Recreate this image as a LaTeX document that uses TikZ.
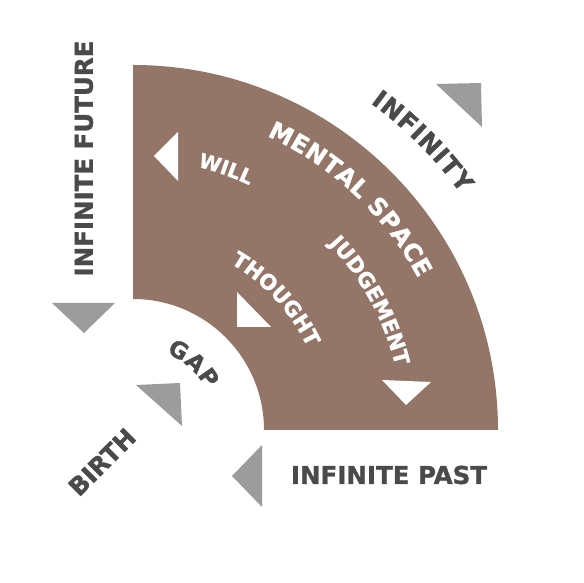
\documentclass[tikz,border=0pt]{standalone}
\usepackage{fontspec}
\usetikzlibrary{decorations.text}
\newfontfamily\labfont{DejaVu Sans}[BoldFeatures={FakeBold=1.2}]
\definecolor{brownfill}{RGB}{147,118,104}
\definecolor{labgray}{RGB}{74,74,74}
\definecolor{trigray}{RGB}{156,156,156}
\newcommand\tfMS{\labfont\bfseries\fontsize{24}{28}\selectfont}
\newcommand\tfW{\labfont\bfseries\fontsize{20}{24}\selectfont}
\newcommand\tfJ{\labfont\bfseries\fontsize{21}{25}\selectfont}
\newcommand\tfG{\labfont\bfseries\fontsize{23}{27}\selectfont}
\newcommand\tfI{\labfont\bfseries\fontsize{25}{29}\selectfont}
\tikzset{
  lab/.style={font=\labfont\bfseries\fontsize{24.5}{28}\selectfont, text=labgray, inner sep=0pt},
}
\begin{document}
\begin{tikzpicture}[x=1pt,y=1pt]
\useasboundingbox (0,0) rectangle (584,583);
\coordinate (C) at (133,153);
% mental space band
\fill[brownfill] (C) ++(131,0) -- ++(234,0) arc[start angle=0,end angle=90,radius=365]
  -- ++(0,-234) arc[start angle=90,end angle=0,radius=131] -- cycle;
% gray triangles
\fill[trigray] (52,280) -- (115,280) -- (84,250) -- cycle;
\fill[trigray] (436,499) -- (481,500) -- (482,456) -- cycle;
\fill[trigray] (136,198) -- (180,200) -- (182,157) -- cycle;
\fill[trigray] (232,107) -- (262,138) -- (262,76) -- cycle;
% white triangles
\fill[white] (154,427) -- (178,451) -- (178,402) -- cycle;
\fill[white] (237,291) -- (237,256) -- (271,256) -- cycle;
\fill[white] (382,203) -- (431,201) -- (406,178) -- cycle;
% straight labels
\node[lab, rotate=90] (future) at (84,424.5) {INFINITE FUTURE};
\node[lab] (past) at (389,108) {INFINITE PAST};
\node[lab, rotate=45] (birth) at (102,121) {BIRTH};
% curved labels
\path[decorate, decoration={text along path, text={|\tfMS|MENTAL SPACE}, text align=fit to path, text color=white}]
  (C) ++(65.5:323) arc[start angle=65.5,end angle=28,radius=323];
\path[decorate, decoration={text along path, text={|\tfI|INFINITY}, text align=fit to path, text color=labgray}]
  (C) ++(54:404) arc[start angle=54,end angle=35.8,radius=404];
\path[decorate, decoration={text along path, text={|\tfW|WILL}, text align=fit to path, text color=white}]
  (C) ++(76.2:271) arc[start angle=76.2,end angle=65,radius=271];
\path[decorate, decoration={text along path, text={|\tfJ|JUDGEMENT}, text align=fit to path, text color=white}]
  (C) ++(43.6:270) arc[start angle=43.6,end angle=14.2,radius=270];
\path[decorate, decoration={text along path, text={|\tfJ|THOUGHT}, text align=fit to path, text color=white}]
  (C) ++(59.7:193) arc[start angle=59.7,end angle=26.3,radius=193];
\path[decorate, decoration={text along path, text={|\tfG|GAP}, text align=fit to path, text color=labgray}]
  (C) ++(66.7:84) arc[start angle=66.7,end angle=29,radius=84];
\end{tikzpicture}
\end{document}
